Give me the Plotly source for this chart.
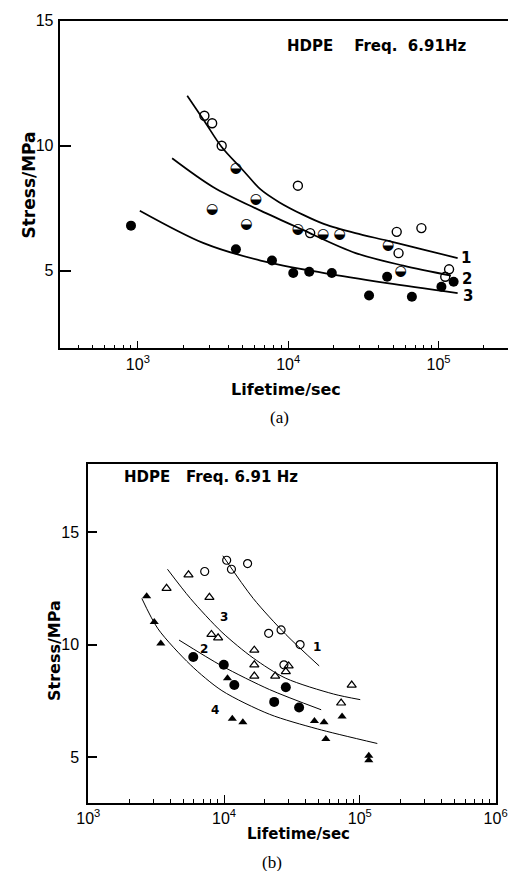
import math
import plotly.graph_objects as go

W, H = 520, 871
TICK_FONT = "Liberation Sans"
LABEL_FONT = "DejaVu Sans"

# ---------------- panel (a) data ----------------
a_open_x = [2770, 3120, 3610, 11600, 14000, 52700, 76900, 54200, 117500, 110800]
a_open_y = [11.2, 10.9, 10.0, 8.4, 6.5, 6.55, 6.7, 5.7, 5.05, 4.75]
a_half_x = [3120, 4490, 5270, 6100, 11600, 17100, 22000, 46200, 55900]
a_half_y = [7.45, 9.1, 6.85, 7.85, 6.65, 6.45, 6.45, 6.0, 4.95]
a_fill_x = [900, 4490, 7800, 10800, 13800, 19500, 34500, 45500, 66500, 104500, 126000]
a_fill_y = [6.8, 5.85, 5.4, 4.9, 4.95, 4.9, 4.0, 4.75, 3.95, 4.35, 4.55]

a_c1_x = [2130, 2760, 3610, 4950, 6550, 8700, 12700, 17400, 28000, 45500, 78000, 134000]
a_c1_y = [12.0, 11.0, 9.95, 9.05, 8.25, 7.74, 7.22, 6.86, 6.5, 6.2, 5.85, 5.5]
a_c2_x = [1690, 3160, 6550, 12300, 28100, 58300, 120800]
a_c2_y = [9.5, 8.35, 7.4, 6.65, 5.7, 5.2, 4.8]
a_c3_x = [1030, 2740, 6550, 17400, 45500, 134000]
a_c3_y = [7.4, 6.1, 5.4, 4.9, 4.5, 4.1]
a_curve_labels = ["1", "2", "3"]
a_label_x = [152900, 154900, 157000]
a_label_y = [5.52, 4.68, 3.97]

# ---------------- panel (b) data ----------------
b_open_x = [7200, 10450, 11330, 14900, 21300, 26300, 36300, 27600]
b_open_y = [13.25, 13.75, 13.35, 13.6, 10.5, 10.65, 10.0, 9.1]
b_otri_x = [3770, 5470, 7800, 8070, 9040, 16700, 16700, 16700, 23800, 28500, 29900, 72800, 87100]
b_otri_y = [12.5, 13.1, 12.1, 10.45, 10.3, 9.75, 9.1, 8.6, 8.6, 8.8, 9.05, 7.4, 8.2]
b_fcir_x = [5930, 9950, 11900, 23400, 28500, 35700]
b_fcir_y = [9.45, 9.1, 8.2, 7.45, 8.1, 7.2]
b_ftri_x = [2690, 3060, 3420, 10600, 11500, 13750, 46300, 54500, 56200, 74000, 116400, 116400]
b_ftri_y = [12.15, 11.0, 10.05, 8.5, 6.7, 6.55, 6.6, 6.55, 5.8, 6.8, 5.05, 4.85]

b_c1_x = [9790, 16400, 28500, 50200]
b_c1_y = [13.95, 12.05, 10.45, 9.05]
b_c2_x = [4660, 9640, 21600, 51900]
b_c2_y = [10.2, 9.05, 8.0, 7.1]
b_c3_x = [3830, 5650, 9640, 16400, 28500, 64000, 100700]
b_c3_y = [13.35, 12.05, 10.55, 9.4, 8.5, 7.8, 7.55]
b_c4_x = [2480, 3260, 5650, 9640, 21600, 48600, 134500]
b_c4_y = [12.05, 10.7, 9.1, 7.95, 6.9, 6.25, 5.6]
b_curve_labels = ["1", "2", "3", "4"]
b_label_x = [48700, 7080, 9950, 8610]
b_label_y = [9.91, 9.82, 11.23, 7.09]

y_ticks = [5, 10, 15]
a_x_ticks = [1e3, 1e4, 1e5]
a_x_text = ["10<sup>3</sup>", "10<sup>4</sup>", "10<sup>5</sup>"]
b_x_ticks = [1e3, 1e4, 1e5, 1e6]
b_x_text = ["10<sup>3</sup>", "10<sup>4</sup>", "10<sup>5</sup>", "10<sup>6</sup>"]


def minor_vals(lo_exp, hi_exp):
    return [m * 10 ** e for e in range(lo_exp, hi_exp) for m in range(2, 10)]


fig = go.Figure()


def curve(x, y, xa, ya, width, smoothing):
    fig.add_trace(go.Scatter(x=x, y=y, mode="lines", xaxis=xa, yaxis=ya,
                             line=dict(color="black", width=width, shape="spline",
                                       smoothing=smoothing),
                             showlegend=False, hoverinfo="skip"))


def points(x, y, xa, ya, symbol, size, lw=1.4):
    fig.add_trace(go.Scatter(x=x, y=y, mode="markers", xaxis=xa, yaxis=ya,
                             marker=dict(symbol=symbol, size=size, color="black",
                                         line=dict(color="black", width=lw)),
                             showlegend=False))


# panel (a)
for cx, cy in [(a_c1_x, a_c1_y), (a_c2_x, a_c2_y), (a_c3_x, a_c3_y)]:
    curve(cx, cy, "x", "y", 1.7, 0.9)
points(a_open_x, a_open_y, "x", "y", "circle-open", 9)
points(a_fill_x, a_fill_y, "x", "y", "circle", 10, 0)
fig.add_trace(go.Scatter(x=a_half_x, y=a_half_y, mode="text", text=["◒"] * len(a_half_x),
                         textposition="middle center", xaxis="x", yaxis="y",
                         textfont=dict(family="DejaVu Sans", size=14, color="black"),
                         showlegend=False))

# panel (b)
for cx, cy in [(b_c1_x, b_c1_y), (b_c2_x, b_c2_y), (b_c3_x, b_c3_y), (b_c4_x, b_c4_y)]:
    curve(cx, cy, "x2", "y2", 1.0, 0.8)
points(b_open_x, b_open_y, "x2", "y2", "circle-open", 8, 1.2)
points(b_otri_x, b_otri_y, "x2", "y2", "triangle-up-open", 8, 1.2)
points(b_fcir_x, b_fcir_y, "x2", "y2", "circle", 10, 0)
points(b_ftri_x, b_ftri_y, "x2", "y2", "triangle-up", 8, 0)

axis_common = dict(showgrid=False, zeroline=False, linecolor="black", linewidth=2,
                   tickcolor="black", ticks="inside", showline=True,
                   tickfont=dict(family=TICK_FONT, size=16, color="black"))

fig.update_layout(
    width=W, height=H, margin=dict(l=0, r=0, t=0, b=0),
    paper_bgcolor="white", plot_bgcolor="white", showlegend=False,
    xaxis=dict(axis_common, type="log", domain=[50 / W, 1.0], range=[2.48, 5.462],
               anchor="y", mirror=True, tickvals=a_x_ticks, ticktext=a_x_text, ticklen=7,
               tickwidth=1, ticklabelstandoff=1,
               minor=dict(ticks="inside", ticklen=3, tickcolor="black", tickwidth=1,
                          tickvals=minor_vals(2, 6))),
    yaxis=dict(axis_common, domain=[1 - 343 / H, 1 - 13 / H], range=[1.905, 15.0],
               anchor="x", tickvals=y_ticks, ticklen=11, tickwidth=1.5, ticklabelstandoff=1),
    xaxis2=dict(axis_common, type="log", domain=[80 / W, 507 / W], range=[3, 6],
                anchor="y2", mirror=True, tickvals=b_x_ticks, ticktext=b_x_text, ticklen=8,
                tickwidth=1, ticklabelstandoff=0,
                minor=dict(ticks="inside", ticklen=4, tickcolor="black", tickwidth=1,
                           tickvals=minor_vals(3, 6))),
    yaxis2=dict(axis_common, domain=[1 - 802 / H, 1 - 460 / H], range=[2.97, 18.04],
                anchor="x2", mirror=True, tickvals=y_ticks, ticklen=9, tickwidth=1.5,
                ticklabelstandoff=4),
)


def paper_text(text, px, py, size=15, family=LABEL_FONT, angle=0, weight="bold"):
    fig.add_annotation(text=text, x=px / W, y=1 - py / H, xref="paper", yref="paper",
                       showarrow=False, textangle=angle, xanchor="center", yanchor="middle",
                       font=dict(family=family, size=size, color="black", weight=weight))


paper_text("HDPE&nbsp;&nbsp;&nbsp;&nbsp;Freq.&nbsp;&nbsp;6.91Hz", 382, 38, 15)
paper_text("HDPE&nbsp;&nbsp;&nbsp;Freq.&nbsp;6.91&nbsp;Hz", 209, 473, 15)
paper_text("Stress/MPa", 18, 179, 17, angle=-90)
paper_text("Stress/MPa", 44, 648, 16, angle=-90)
paper_text("Lifetime/sec", 287, 385, 16)
paper_text("Lifetime/sec", 300, 834, 15)
paper_text("(a)", 280, 413, 17, family="Liberation Serif", weight="normal")
paper_text("(b)", 273, 862, 17, family="Liberation Serif", weight="normal")

for t, lx, ly in zip(a_curve_labels, a_label_x, a_label_y):
    fig.add_annotation(text=t, x=math.log10(lx), y=ly, xref="x", yref="y", showarrow=False,
                       font=dict(family=LABEL_FONT, size=15, color="black", weight="bold"))
for t, lx, ly in zip(b_curve_labels, b_label_x, b_label_y):
    fig.add_annotation(text=t, x=math.log10(lx), y=ly, xref="x2", yref="y2", showarrow=False,
                       font=dict(family=LABEL_FONT, size=12, color="black", weight="bold"))

fig.write_html("out.html")
